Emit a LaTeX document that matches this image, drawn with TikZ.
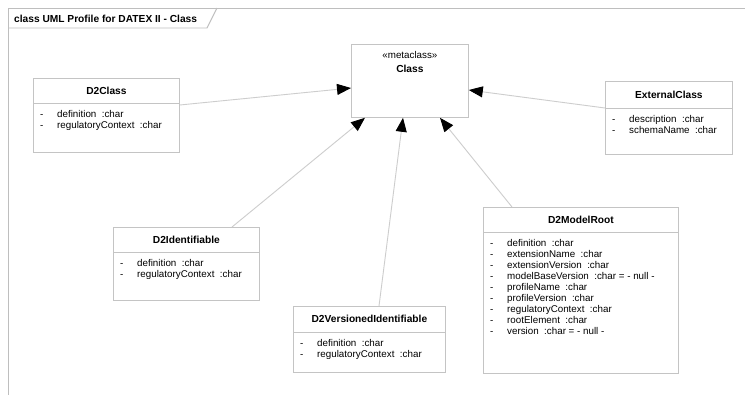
\documentclass[tikz,border=0pt]{standalone}
\usepackage{fontspec}
\setmainfont{Liberation Sans}
\usetikzlibrary{arrows.meta,calc}
\definecolor{boxgray}{RGB}{196,196,196}
\definecolor{framegray}{RGB}{190,190,190}
\definecolor{conngray}{RGB}{205,205,205}
\newcommand\umlclass[8]{%
  \node[boxline, anchor=north west, minimum width=#4pt, minimum height=#5pt, inner sep=0pt, fill=white] (#1) at (#2,#3) {};
  \draw[boxline] ($(#1.north west)+(0,#6)$) -- ($(#1.north east)+(0,#6)$);
  \node[titletext, anchor=base] (#1-t) at ($(#1.north)+(0,#6/2+3.7)$) {#7};
  \foreach \myattr [count=\i] in {#8} {
    \node[attrtext, anchor=base west] (#1-d\i) at ($(#1.north west)+(7,#6+11*\i+3.5)$) {-};
    \node[attrtext, anchor=base west] (#1-a\i) at ($(#1.north west)+(24,#6+11*\i+3.5)$) {\myattr};
  }%
}
\begin{document}
\begin{tikzpicture}[x=1pt,y=-1pt,
  boxline/.style={draw=boxgray,line width=0.8pt},
  titletext/.style={font=\fontsize{10.2}{12}\selectfont\bfseries, inner sep=0pt},
  attrtext/.style={font=\fontsize{9.8}{12}\selectfont, inner sep=0pt},
  conn/.style={draw=conngray, line width=0.9pt, -{Triangle[length=14pt,width=11pt,black]}}]
\useasboundingbox (0,0) rectangle (745,394);
\fill[white] (0,0) rectangle (745,394);
% frame
\draw[framegray, line width=0.9pt] (8,400) -- (8,8) -- (760,8);
\draw[framegray, line width=0.9pt] (8,28) -- (207,28) -- (217,8);
\node[font=\fontsize{10.2}{12}\selectfont\bfseries, anchor=base west, inner sep=0pt] (frametitle) at (14,22) {class UML Profile for DATEX II - Class};
% metaclass
\node[boxline, anchor=north west, minimum width=117pt, minimum height=73pt, inner sep=0pt, fill=white] (class) at (351,44) {};
\node[attrtext, anchor=base] (class-st) at ($(class.north)+(0,14.5)$) {«metaclass»};
\node[titletext, anchor=base] (class-t) at ($(class.north)+(0,28.5)$) {Class};
% classes
\umlclass{d2class}{33}{78}{146}{74}{25}{D2Class}{definition~ :char, regulatoryContext~ :char}
\umlclass{extclass}{605}{81}{127}{73}{27}{ExternalClass}{description~ :char, schemaName~ :char}
\umlclass{d2ident}{113}{227}{146}{73}{25}{D2Identifiable}{definition~ :char, regulatoryContext~ :char}
\umlclass{d2vers}{293}{306}{152}{66}{26}{D2VersionedIdentifiable}{definition~ :char, regulatoryContext~ :char}
\umlclass{d2root}{483}{207}{195}{166}{25}{D2ModelRoot}{definition~ :char, extensionName~ :char, extensionVersion~ :char, modelBaseVersion~ :char = - null -, profileName~ :char, profileVersion~ :char, regulatoryContext~ :char, rootElement~ :char, version~ :char = - null -}
% generalizations
\draw[conn] ($(d2class.north east)+(0,27)$) -- ($(class.north west)+(0,44)$);
\draw[conn] ($(extclass.north west)+(0,27)$) -- ($(class.north east)+(0,46)$);
\draw[conn] ($(d2ident.north west)+(119,0)$) -- ($(class.south west)+(14,0)$);
\draw[conn] ($(d2vers.north west)+(86,0)$) -- ($(class.south west)+(52,0)$);
\draw[conn] ($(d2root.north west)+(29,0)$) -- ($(class.south west)+(89,0)$);
\end{tikzpicture}
\end{document}
